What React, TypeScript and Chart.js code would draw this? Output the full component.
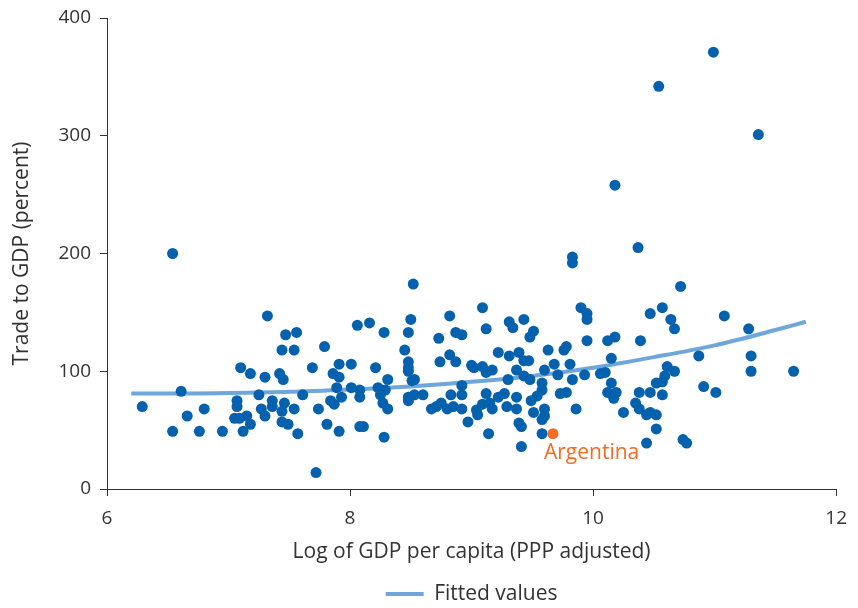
import { useEffect, useRef } from "react";
import { Chart, registerables } from "chart.js";

Chart.register(...registerables);

// Log of GDP per capita (PPP adjusted) for each country
const gdpLog = [
  7.32, 7.47, 7.56, 7.44, 7.54, 7.10, 7.18, 7.30, 7.42, 7.45, 6.61, 6.29, 7.07, 7.07, 7.25, 6.80, 6.66, 7.36,
  7.36, 7.27, 7.30, 7.46, 7.54, 7.44, 7.15, 7.05, 7.09, 7.18, 7.44, 7.49, 6.54, 6.76, 6.95, 7.12, 7.57, 6.54,
  8.52, 8.06, 8.16, 8.28, 8.50, 8.48, 8.82, 8.73, 8.87, 7.79, 8.45, 7.69, 7.91, 8.01, 7.86, 7.91, 8.21, 8.48,
  8.48, 8.48, 8.74, 8.82, 8.87, 8.31, 8.51, 8.53, 7.61, 7.89, 8.01, 8.08, 8.23, 8.29, 7.93, 8.08, 7.84, 7.87,
  8.25, 8.48, 8.48, 8.53, 8.60, 8.83, 7.74, 8.27, 8.31, 8.67, 8.71, 8.75, 8.80, 8.85, 7.81, 7.91, 8.08, 8.11,
  8.28, 7.72,
  10.37, 9.83, 9.83, 9.09, 9.90, 9.95, 9.95, 10.47, 9.31, 9.34, 9.43, 9.51, 9.48, 9.12, 8.92, 9.95, 10.12,
  10.18, 10.39, 9.22, 9.31, 9.39, 9.43, 9.47, 9.63, 9.76, 9.78, 10.15, 9.00, 9.02, 9.09, 9.12, 9.17, 9.37,
  9.30, 9.43, 9.48, 9.60, 9.68, 9.71, 9.81, 9.83, 9.93, 10.06, 10.10, 9.58, 9.58, 8.92, 8.92, 9.12, 9.22,
  9.27, 9.37, 9.54, 9.49, 9.73, 9.78, 10.15, 10.12, 10.19, 10.17, 10.38, 10.47, 10.52, 8.92, 8.97, 9.04,
  9.05, 9.09, 9.15, 9.17, 9.29, 9.37, 9.51, 9.60, 9.60, 9.58, 9.86, 10.25, 10.35, 10.38, 10.44, 10.47,
  10.52, 9.14, 9.39, 9.41, 9.41, 9.58, 10.44, 10.52,
  10.72, 10.57, 10.64, 10.67, 11.08, 11.28, 10.87, 11.30, 11.30, 11.65, 10.61, 10.67, 10.59, 10.57, 10.57,
  10.91, 11.01, 10.74, 10.77,
  10.99, 10.54, 11.36, 10.18,
];

// Trade to GDP (percent) for each country, same order as gdpLog
const tradePct = [
  147, 131, 133, 118, 118, 103, 98, 95, 98, 93, 83, 70, 75, 70, 80, 68, 62, 75,
  70, 68, 62, 73, 68, 66, 62, 60, 60, 55, 57, 55, 49, 49, 49, 49, 47, 200,
  174, 139, 141, 133, 144, 133, 147, 128, 133, 121, 118, 103, 106, 106, 98, 95, 103, 108,
  103, 100, 108, 114, 108, 93, 92, 93, 80, 86, 86, 84, 86, 84, 78, 78, 75, 72,
  80, 78, 75, 80, 80, 80, 68, 73, 68, 68, 70, 73, 68, 70, 55, 49, 53, 53,
  44, 14,
  205, 197, 192, 154, 154, 149, 144, 149, 142, 137, 144, 134, 129, 136, 131, 126, 126,
  129, 126, 116, 113, 116, 109, 109, 118, 118, 121, 111, 105, 103, 104, 99, 101, 101,
  93, 96, 93, 101, 106, 97, 106, 93, 97, 98, 99, 90, 84, 88, 80, 81, 78,
  81, 78, 79, 75, 81, 82, 90, 82, 82, 77, 82, 82, 90, 68, 57, 67,
  63, 72, 73, 68, 70, 68, 65, 68, 62, 59, 68, 65, 73, 68, 63, 65,
  63, 47, 56, 53, 36, 47, 39, 51,
  172, 154, 144, 136, 147, 136, 113, 113, 100, 100, 104, 100, 96, 91, 80,
  87, 82, 42, 39,
  371, 342, 301, 258,
];

// Highlighted country
const highlightName = "Argentina";
const highlightLog = 9.67;
const highlightPct = 47;

// Fitted curve
const fitLog = [6.2, 6.5, 7, 7.5, 8, 8.5, 9, 9.5, 10, 10.5, 11, 11.5, 11.75];
const fitPct = [81, 81, 81.5, 82.5, 84.5, 87, 91, 96, 103, 112, 122, 135, 142];

const xTickValues = [6, 8, 10, 12];
const yTickValues = [0, 100, 200, 300, 400];

const FONT = "'Open Sans', 'Noto Sans', sans-serif";
const TEXT = "#333333";
const DOT = "#0461AD";
const FIT = "#6FA6DB";
const HIGHLIGHT = "#F36B25";

const calloutPlugin = {
  id: "callout",
  afterDatasetsDraw(chart: any) {
    const pt = chart.getDatasetMeta(0).data[0];
    if (!pt) return;
    const ctx = chart.ctx;
    ctx.save();
    ctx.font = `21px ${FONT}`;
    ctx.fillStyle = HIGHLIGHT;
    ctx.textAlign = "left";
    ctx.textBaseline = "middle";
    ctx.fillText(highlightName, pt.x - 9, pt.y + 19);
    ctx.restore();
  },
};

export default function App() {
  const canvasRef = useRef<HTMLCanvasElement>(null);

  useEffect(() => {
    if (!canvasRef.current) return;
    const chart = new Chart(canvasRef.current, {
      type: "scatter",
      data: {
        datasets: [
          {
            label: highlightName,
            data: [{ x: highlightLog, y: highlightPct }],
            backgroundColor: HIGHLIGHT,
            borderWidth: 0,
            pointRadius: 5.5,
          },
          {
            label: "Countries",
            data: gdpLog.map((x, i) => ({ x, y: tradePct[i] })),
            backgroundColor: DOT,
            borderWidth: 0,
            pointRadius: 5.5,
          },
          {
            type: "line",
            label: "Fitted values",
            data: fitLog.map((x, i) => ({ x, y: fitPct[i] })),
            borderColor: FIT,
            backgroundColor: FIT,
            borderWidth: 4,
            pointRadius: 0,
            tension: 0.4,
            cubicInterpolationMode: "monotone",
            fill: false,
          } as any,
        ],
      },
      options: {
        animation: false,
        responsive: false,
        devicePixelRatio: 1,
        events: [],
        layout: { padding: { top: 18, right: 18, bottom: 0, left: 0 } },
        plugins: {
          tooltip: { enabled: false },
          legend: {
            position: "bottom",
            fullSize: false,
            maxHeight: 30,
            labels: {
              boxWidth: 38,
              boxHeight: 4,
              padding: 5.5,
              color: TEXT,
              font: { family: FONT, size: 21 },
              generateLabels: (c: any) =>
                (Chart.defaults.plugins.legend.labels as any)
                  .generateLabels(c)
                  .filter((item: any) => item.datasetIndex === 2)
                  .map((item: any) => ({ ...item, lineWidth: 0, fillStyle: FIT })),
            },
          },
        },
        scales: {
          x: {
            type: "linear",
            min: 6,
            max: 12,
            afterBuildTicks: (s: any) => {
              s.ticks = xTickValues.map((v) => ({ value: v }));
            },
            afterFit: (s: any) => {
              s.height = 89;
            },
            ticks: { color: TEXT, font: { family: FONT, size: 19 }, padding: 11 },
            grid: { drawOnChartArea: false, drawTicks: true, tickLength: 7, color: TEXT },
            border: { color: TEXT, width: 1 },
            title: {
              display: true,
              text: "Log of GDP per capita (PPP adjusted)",
              color: TEXT,
              font: { family: FONT, size: 21 },
              padding: { top: 4, bottom: 13 },
            },
          },
          y: {
            type: "linear",
            min: 0,
            max: 400,
            afterBuildTicks: (s: any) => {
              s.ticks = yTickValues.map((v) => ({ value: v }));
            },
            afterFit: (s: any) => {
              s.width = 107;
              s.paddingTop = 0;
              s.paddingBottom = 0;
            },
            ticks: { color: TEXT, font: { family: FONT, size: 19 }, padding: 9 },
            grid: { drawOnChartArea: false, drawTicks: true, tickLength: 7, color: TEXT },
            border: { color: TEXT, width: 1 },
            title: {
              display: true,
              text: "Trade to GDP (percent)",
              color: TEXT,
              font: { family: FONT, size: 21 },
              padding: { top: 9, bottom: 4 },
            },
          },
        },
      },
      plugins: [calloutPlugin],
    });
    return () => chart.destroy();
  }, []);

  return (
    <div style={{ position: "absolute", left: 0, top: 0, width: 858, height: 608, background: "#fff" }}>
      <canvas ref={canvasRef} width={858} height={608} style={{ display: "block" }} />
    </div>
  );
}
